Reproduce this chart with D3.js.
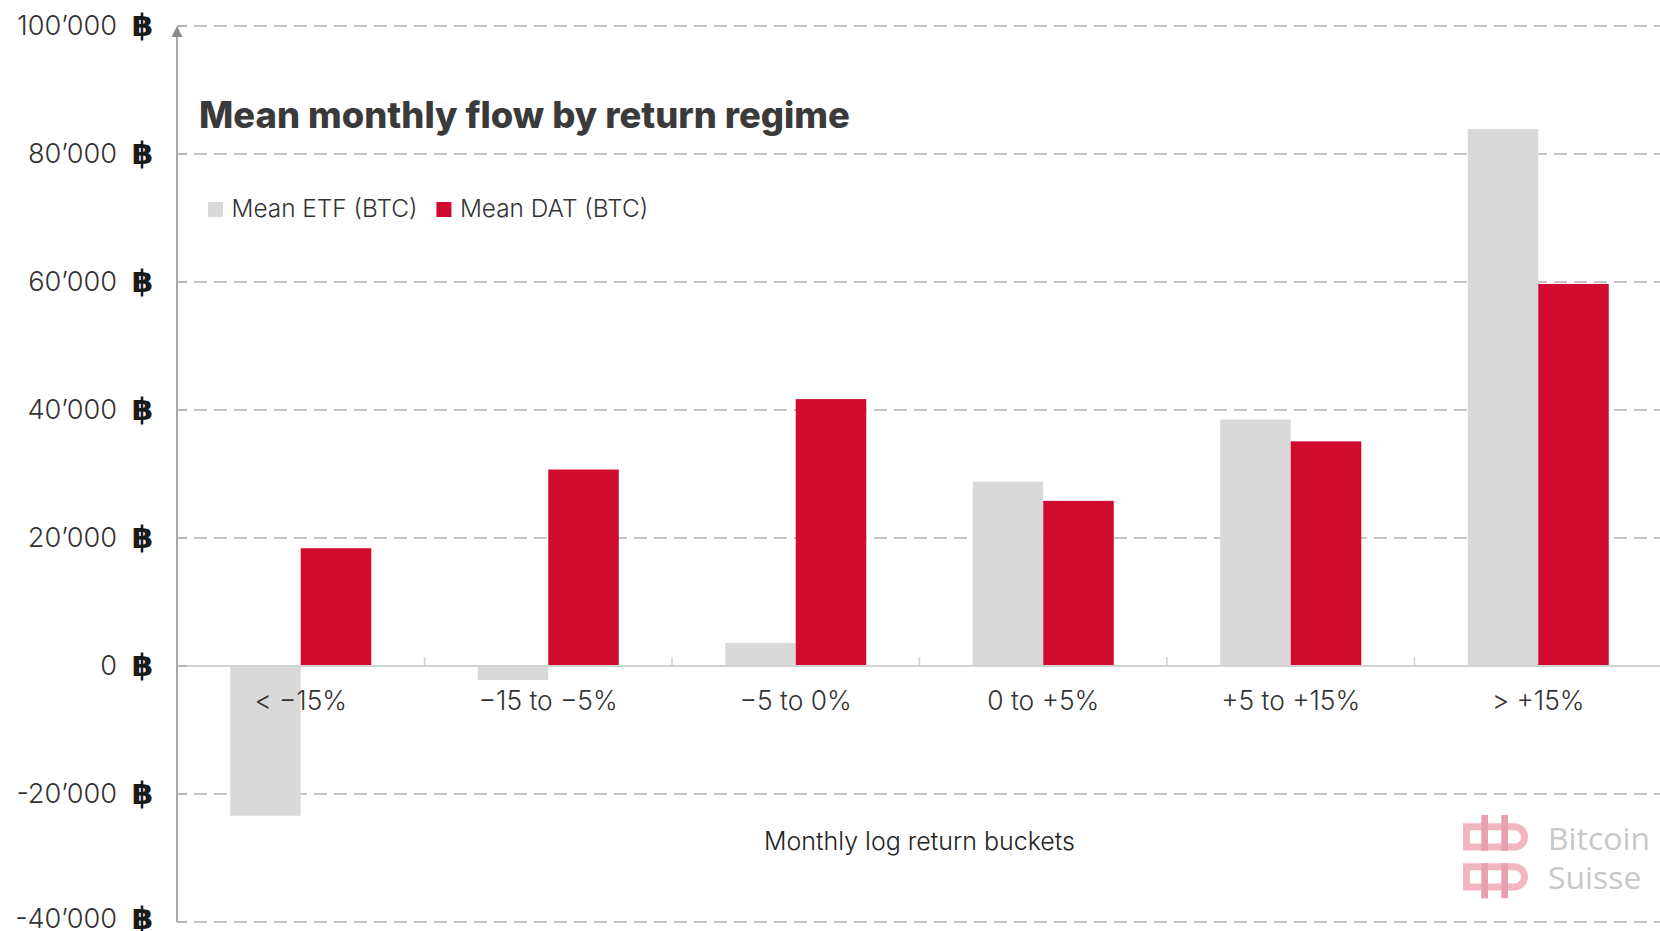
<!DOCTYPE html>
<html><head><meta charset="utf-8">
<script src="https://cdn.jsdelivr.net/npm/d3@7"></script>
<style>
html,body{margin:0;padding:0;background:#fff;}
svg{display:block;}
</style></head><body>
<svg id="chart" width="1660" height="931"></svg>
<script>
// ---------- DATA ----------
const categories = ["< −15%", "−15 to −5%", "−5 to 0%", "0 to +5%", "+5 to +15%", "> +15%"];
const seriesNames = ["Mean ETF (BTC)", "Mean DAT (BTC)"];
const etfValues = [-23400, -2200, 3600, 28800, 38500, 83900];
const datValues = [18400, 30700, 41700, 25800, 35100, 59700];
const yTickValues = [-40000, -20000, 0, 20000, 40000, 60000, 80000, 100000];
const titleText = "Mean monthly flow by return regime";
const xAxisTitle = "Monthly log return buckets";
const currencySymbol = "฿";
const logoLines = ["Bitcoin", "Suisse"];

(function () {
// ---------- LAYOUT ----------
const W = 1660, H = 931;
const pLeft = 177, pRight = 1662, pTop = 26, pBottom = 922;
const colors = { "Mean ETF (BTC)": "#d9d9d9", "Mean DAT (BTC)": "#d10a2f" };
const bodyFont = "Inter, 'Noto Sans', sans-serif";

const svg = d3.select("#chart");
const fmt = d3.formatLocale({ decimal: ".", thousands: "’", grouping: [3], currency: ["", ""], minus: "-" }).format(",");

const y = d3.scaleLinear().domain([-40000, 100000]).range([pBottom, pTop]);
const x0 = d3.scaleBand().domain(categories).range([pLeft, pRight]).paddingInner(0).paddingOuter(0);
const x1 = d3.scaleBand().domain(seriesNames).range([0, x0.bandwidth()]).paddingInner(0).paddingOuter(0.755);

const rows = categories.map((c, i) => ({ cat: c, vals: [
  { key: seriesNames[0], v: etfValues[i] },
  { key: seriesNames[1], v: datValues[i] }
]}));

function fitWidth(sel, w) {
  const n = sel.node();
  const cur = n.getComputedTextLength();
  const fs = parseFloat(sel.attr("font-size"));
  const nf = cur > 0 ? fs * w / cur : fs;
  sel.attr("font-size", nf);
  return nf;
}
const labelY = d => Math.min(y(d) + 9, H - 3.5);

// ---------- GRID ----------
const grid = svg.append("g");
grid.selectAll("line").data(yTickValues.filter(v => v !== 0)).join("line")
  .attr("x1", pLeft).attr("x2", W)
  .attr("y1", d => y(d)).attr("y2", d => y(d))
  .attr("stroke", "#c6c6c6").attr("stroke-width", 2)
  .attr("stroke-dasharray", "13,7").attr("stroke-dashoffset", 3);

// ---------- BARS ----------
const gBars = svg.append("g");
gBars.selectAll("g").data(rows).join("g")
  .attr("transform", d => `translate(${x0(d.cat)},0)`)
  .selectAll("rect").data(d => d.vals).join("rect")
  .attr("x", d => x1(d.key))
  .attr("width", x1.bandwidth())
  .attr("y", d => y(Math.max(0, d.v)))
  .attr("height", d => Math.abs(y(d.v) - y(0)))
  .attr("fill", d => colors[d.key]);

// ---------- ZERO LINE + CATEGORY TICKS ----------
svg.append("line").attr("x1", pLeft).attr("x2", W).attr("y1", y(0)).attr("y2", y(0))
  .attr("stroke", "#d2d2d2").attr("stroke-width", 2);
svg.append("g").selectAll("line").data(categories.slice(1)).join("line")
  .attr("x1", d => x0(d)).attr("x2", d => x0(d))
  .attr("y1", y(0)).attr("y2", y(0) - 9)
  .attr("stroke", "#cfcfcf").attr("stroke-width", 1.5);

// ---------- Y AXIS ----------
svg.append("line").attr("x1", pLeft).attr("x2", pLeft).attr("y1", pBottom).attr("y2", pTop + 6)
  .attr("stroke", "#a9a9a9").attr("stroke-width", 2);
svg.append("path").attr("d", `M${pLeft},${pTop} L${pLeft - 5.5},${pTop + 11} L${pLeft + 5.5},${pTop + 11} Z`)
  .attr("fill", "#8a8a8a");
svg.append("g").selectAll("line").data(yTickValues).join("line")
  .attr("x1", pLeft).attr("x2", pLeft + 10)
  .attr("y1", d => y(d)).attr("y2", d => y(d))
  .attr("stroke", "#b4b4b4").attr("stroke-width", 2);

const yLab = svg.append("g");
const yNums = yLab.selectAll("text.num").data(yTickValues).join("text").attr("class", "num")
  .attr("x", 117).attr("y", labelY)
  .attr("text-anchor", "end")
  .attr("font-family", bodyFont).attr("font-weight", 300).attr("font-size", 25)
  .attr("fill", "#333")
  .text(d => fmt(d));
const refNum = yNums.filter(d => d === 100000);
const yfs = fitWidth(refNum, 100);
yNums.attr("font-size", yfs);
yLab.selectAll("text.cur").data(yTickValues).join("text").attr("class", "cur")
  .attr("x", 142.5).attr("y", d => labelY(d) + 1)
  .attr("text-anchor", "middle")
  .attr("font-family", "'DejaVu Sans', sans-serif").attr("font-weight", 700).attr("font-size", 31)
  .attr("fill", "#1a1a1a")
  .text(currencySymbol);

// ---------- X LABELS ----------
const xLabs = svg.append("g").selectAll("text").data(categories).join("text")
  .attr("x", d => x0(d) + x0.bandwidth() / 2).attr("y", 710)
  .attr("text-anchor", "middle")
  .attr("font-family", bodyFont).attr("font-weight", 300).attr("font-size", 25)
  .attr("fill", "#333")
  .text(d => d);
const xfs = fitWidth(xLabs.filter(d => d === categories[2]), 112);
xLabs.attr("font-size", xfs);

const xt = svg.append("text").attr("x", (pLeft + pRight) / 2).attr("y", 850)
  .attr("text-anchor", "middle")
  .attr("font-family", bodyFont).attr("font-weight", 300).attr("font-size", 25)
  .attr("fill", "#222").text(xAxisTitle);
fitWidth(xt, 311);

// ---------- TITLE ----------
const tt = svg.append("text").attr("x", 199).attr("y", 128)
  .attr("font-family", bodyFont).attr("font-weight", 800).attr("font-size", 33)
  .attr("fill", "#3a3a3a").text(titleText);
fitWidth(tt, 651);

// ---------- LEGEND ----------
const lg = svg.append("g");
let lx = 208, lfs = 25;
seriesNames.forEach((s, i) => {
  lg.append("rect").attr("x", lx).attr("y", 202).attr("width", 15).attr("height", 15).attr("fill", colors[s]);
  const t = lg.append("text").attr("x", lx + 23.5).attr("y", 217)
    .attr("font-family", bodyFont).attr("font-weight", 300).attr("font-size", lfs)
    .attr("fill", "#333").text(s);
  if (i === 0) lfs = fitWidth(t, 186);
  lx = lx + 23.5 + t.node().getComputedTextLength() + 19;
});

// ---------- LOGO (watermark) ----------
const logo = svg.append("g").attr("transform", "translate(1463,815)");
const pink = "#f2b5c2", pinkDark = "#e89fb0";
logo.append("path").attr("d", "M3.5,11.8 H51 A10.1,10.1 0 0 1 61.5,21.9 A10.1,10.1 0 0 1 51,32 H3.5 Z")
  .attr("fill", "none").attr("stroke", pink).attr("stroke-width", 7);
logo.append("path").attr("d", "M3.5,51.7 H51 A10.1,10.1 0 0 1 61.5,61.8 A10.1,10.1 0 0 1 51,71.9 H3.5 Z")
  .attr("fill", "none").attr("stroke", pink).attr("stroke-width", 7);
[18.3, 38.3].forEach(vx => {
  logo.append("rect").attr("x", vx).attr("y", 0).attr("width", 6.7).attr("height", 35.7).attr("fill", pinkDark);
  logo.append("rect").attr("x", vx).attr("y", 48.3).attr("width", 6.7).attr("height", 35).attr("fill", pinkDark);
});
let logoFs = 34;
logoLines.forEach((l, i) => {
  const t = svg.append("text").attr("x", 1548).attr("y", 850 + i * 39)
    .attr("font-family", "'Open Sans', 'Noto Sans', sans-serif").attr("font-weight", 400).attr("font-size", logoFs)
    .attr("fill", "#c8c8c8").text(l);
  if (i === 0) logoFs = fitWidth(t, 102);
});
})();
</script>
</body></html>
